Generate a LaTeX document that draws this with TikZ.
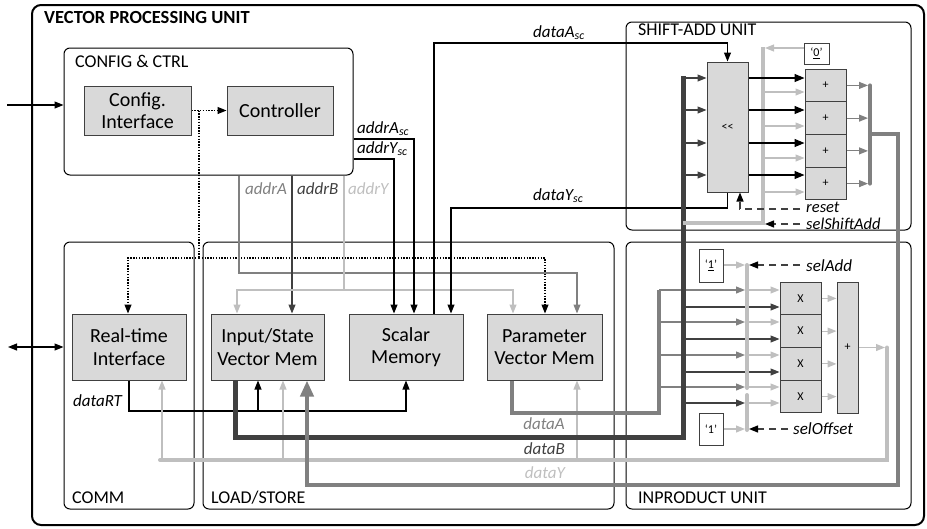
\documentclass[tikz,border=0pt]{standalone}
\usepackage{fontspec}
\setmainfont{Carlito}
\usetikzlibrary{arrows.meta}
\definecolor{cD}{HTML}{404040}
\definecolor{cM}{HTML}{808080}
\definecolor{cL}{HTML}{BFBFBF}
\definecolor{cF}{HTML}{D9D9D9}
\begin{document}
\begin{tikzpicture}[x=1pt,y=-1pt,
  grp/.style={draw=black, line width=1pt, rounded corners=6pt, inner sep=0pt},
  blk/.style={draw=cD, fill=cF, line width=1pt, inner sep=0pt, align=center, font=\fontsize{20}{22.5}\selectfont},
  sblk/.style={draw=cD, fill=cF, line width=1pt, inner sep=0pt, font=\fontsize{12}{14}\selectfont},
  cst/.style={draw=cD, fill=white, line width=1pt, inner sep=0pt, font=\fontsize{12}{14}\selectfont},
  ttl/.style={anchor=base west, inner sep=0pt, font=\fontsize{18}{20}\selectfont},
  sig/.style={anchor=base west, inner sep=0pt, font=\fontsize{17}{20}\selectfont\itshape},
  tip/.style={-{Triangle[length=9pt,width=7pt]}},
  thin/.style={line width=1.1pt},
  bus/.style={line width=4.5pt},
  ctl/.style={draw=cD, line width=1.2pt, dash pattern=on 7pt off 5pt, -{Triangle[length=9pt,width=7pt,color=black]}},
  dots/.style={line width=1.1pt, dash pattern=on 1.4pt off 1.4pt},
]
\useasboundingbox (0,0) rectangle (927,528);

% ---------- groups ----------
\node[grp, line width=2pt, rounded corners=9pt, minimum width=892pt, minimum height=520pt] (vpu) at (478,265) {};
\node[grp, minimum width=289pt, minimum height=127pt] (cfg) at (208.5,111.5) {};
\node[grp, minimum width=285pt, minimum height=208pt] (sau) at (768.5,126) {};
\node[grp, minimum width=130pt, minimum height=267pt] (comm) at (129,375.5) {};
\node[grp, minimum width=411pt, minimum height=267pt] (ls) at (408.5,375.5) {};
\node[grp, minimum width=285pt, minimum height=267pt] (ipu) at (768.5,375.5) {};

\node[ttl, font=\fontsize{18.5}{20}\selectfont\bfseries] (tvpu) at (44,23) {VECTOR PROCESSING UNIT};
\node[ttl] (tcfg) at (75,67) {CONFIG \& CTRL};
\node[ttl] (tsau) at (638,35) {SHIFT-ADD UNIT};
\node[ttl] (tcomm) at (72,503) {COMM};
\node[ttl] (tls) at (211,503) {LOAD/STORE};
\node[ttl] (tipu) at (638,503) {INPRODUCT UNIT};

% ---------- blocks ----------
\node[blk, minimum width=107pt, minimum height=49pt] (cfgif) at (137.5,110.5) {Config.\\Interface};
\node[blk, minimum width=106pt, minimum height=49pt] (ctrl) at (280,110.5) {Controller};
\node[blk, minimum width=114pt, minimum height=66pt] (rt) at (129,347) {Real-time\\Interface};
\node[blk, minimum width=113pt, minimum height=66pt] (ism) at (267.5,347) {Input/State\\Vector Mem};
\node[blk, minimum width=114pt, minimum height=66pt] (sm) at (406,347) {Scalar\\Memory};
\node[blk, minimum width=115pt, minimum height=66pt] (pvm) at (544.5,347) {Parameter\\Vector Mem};

\node[sblk, minimum width=41pt, minimum height=130pt] (shift) at (727.5,127) {<{}<};
\node[sblk, minimum width=41pt, minimum height=32.75pt] (a1) at (825.5,85.4) {+};
\node[sblk, minimum width=41pt, minimum height=32.75pt] (a2) at (825.5,118.1) {+};
\node[sblk, minimum width=41pt, minimum height=32.75pt] (a3) at (825.5,150.9) {+};
\node[sblk, minimum width=41pt, minimum height=32.75pt] (a4) at (825.5,183.6) {+};
\node[cst, minimum width=25pt, minimum height=21pt] (zero) at (816.5,53.5) {‘\underline{0}’};

\node[sblk, minimum width=41pt, minimum height=32.75pt] (x1) at (800.5,298.4) {X};
\node[sblk, minimum width=41pt, minimum height=32.75pt] (x2) at (800.5,331.1) {X};
\node[sblk, minimum width=41pt, minimum height=32.75pt] (x3) at (800.5,363.9) {X};
\node[sblk, minimum width=41pt, minimum height=32.75pt] (x4) at (800.5,396.6) {X};
\node[sblk, minimum width=21pt, minimum height=131pt] (sum) at (847.5,347.5) {+};
\node[cst, minimum width=24pt, minimum height=33pt] (one1) at (711,265.5) {‘\underline{1}’};
\node[cst, minimum width=24pt, minimum height=32pt] (one2) at (711,429) {‘1’};

% ---------- external ----------
\coordinate (xIn) at (7,105);
\draw[thin, tip] (xIn) -- (xIn -| cfg.west);
\coordinate (xBi) at (8,347);
\draw[thin, {Triangle[length=9pt,width=7pt]}-{Triangle[length=9pt,width=7pt]}] (xBi) -- (xBi -| comm.west);

% ---------- dotted control ----------
\draw[dots, tip] (cfgif.east) -- (ctrl.west);
\coordinate (dj) at (199,110.5);
\coordinate (dh) at (199,258);
\coordinate (xRTd) at (128,0);
\coordinate (xPd) at (545,0);
\draw[dots] (dj) -- (dh);
\draw[dots, tip] (dh) -- (xRTd |- dh) -- (xRTd |- rt.north);
\draw[dots, tip] (dh) -- (xPd |- dh) -- (xPd |- pvm.north);

% ---------- addresses ----------
\coordinate (xaA) at (239,0); \coordinate (yaA) at (0,273); \coordinate (xaA2) at (577,0);
\draw[thin, cM, tip] (xaA |- cfg.south) -- (xaA |- yaA) -- (xaA2 |- yaA) -- (xaA2 |- pvm.north);
\coordinate (xaB) at (292,0);
\draw[thin, cD, tip] (xaB |- cfg.south) -- (xaB |- ism.north);
\coordinate (xaY) at (344,0); \coordinate (yaY) at (0,290);
\coordinate (xaY1) at (237,0); \coordinate (xaY2) at (513,0);
\draw[thin, cL] (xaY |- cfg.south) -- (xaY |- yaY);
\draw[thin, cL, tip] (xaY |- yaY) -- (xaY1 |- yaY) -- (xaY1 |- ism.north);
\draw[thin, cL, tip] (xaY |- yaY) -- (xaY2 |- yaY) -- (xaY2 |- pvm.north);
\node[sig, text=cM] (laA) at (245,194) {addrA};
\node[sig, text=cD] (laB) at (297,194) {addrB};
\node[sig, text=cL] (laY) at (348,194) {addrY};

\coordinate (yAs) at (0,139); \coordinate (xAs) at (414,0);
\draw[thin, tip] (cfg.east |- yAs) -- (xAs |- yAs) -- (xAs |- sm.north);
\coordinate (yYs) at (0,159); \coordinate (xYs) at (394,0);
\draw[thin, tip] (cfg.east |- yYs) -- (xYs |- yYs) -- (xYs |- sm.north);
\node[sig] (lAs) at (357,133) {addrA\textsubscript{sc}};
\node[sig] (lYs) at (357,153) {addrY\textsubscript{sc}};

% ---------- scalar data ----------
\coordinate (xDAs) at (434,0); \coordinate (yDAs) at (0,43);
\draw[thin, tip] (xDAs |- sm.north) -- (xDAs |- yDAs) -- (shift.north |- yDAs) -- (shift.north);
\node[sig] (lDAs) at (533,37) {dataA\textsubscript{sc}};
\coordinate (yDYs) at (0,208); \coordinate (xDYs) at (451,0);
\draw[thin, tip] (shift.south) -- (shift.south |- yDYs) -- (xDYs |- yDYs) -- (xDYs |- sm.north);
\node[sig] (lDYs) at (533,200) {dataY\textsubscript{sc}};

% ---------- dataRT ----------
\coordinate (yRT) at (0,411); \coordinate (xRTb) at (258,0);
\draw[thin, tip] (rt.south) -- (rt.south |- yRT) -- (sm.south |- yRT) -- (sm.south);
\draw[thin, tip] (xRTb |- yRT) -- (xRTb |- ism.south);
\node[sig] (lRT) at (73,406) {dataRT};

% ---------- dataY bus ----------
\coordinate (xY) at (887,0); \coordinate (yY) at (0,460); \coordinate (xY0) at (160,0);
\coordinate (xYr) at (162,0); \coordinate (xYi) at (283,0); \coordinate (xYp) at (577,0);
\draw[thin, cL, tip] (sum.east) -- ([xshift=-2pt]xY |- sum.east);
\draw[bus, line width=4pt, cL, line cap=round] (xY |- sum.east) -- (xY |- yY) -- (xY0 |- yY);
\draw[thin, cL, tip] (xYr |- yY) -- (xYr |- rt.south);
\draw[thin, cL, tip] (xYi |- yY) -- (xYi |- ism.south);
\draw[thin, cL, tip] (xYp |- yY) -- (xYp |- pvm.south);

% ---------- dataA bus ----------
\coordinate (xA0) at (512,0); \coordinate (yA) at (0,413); \coordinate (xAb) at (659,0); \coordinate (yAt) at (0,290);
\draw[bus, cM] (xA0 |- pvm.south) -- (xA0 |- yA) -- (xAb |- yA) -- (xAb |- yAt);
\coordinate (xMl) at (745,0); \coordinate (xMc) at (747,0); \coordinate (xMr) at (749,0);
\foreach \y in {290,322,355,387}{
  \coordinate (t) at (0,\y);
  \draw[thin, cM, tip] (xAb |- t) -- (xMl |- t);
}

% ---------- dataB bus ----------
\coordinate (xB0) at (235,0); \coordinate (yB) at (0,437); \coordinate (xBb) at (683,0); \coordinate (yBt) at (0,76);
\draw[bus, line width=5pt, cD] (xB0 |- ism.south) -- (xB0 |- yB) -- (xBb |- yB) -- (xBb |- yBt);
\foreach \y in {78,110,143,175}{
  \coordinate (t) at (0,\y);
  \draw[thin, cD, tip] (xBb |- t) -- (shift.west |- t);
}
\foreach \y/\n in {307/1,339/2,372/3}{
  \coordinate (t) at (0,\y);
  \draw[thin, cD, tip] (xBb |- t) -- (x\n.west |- t);
}
\coordinate (t) at (0,403);
\draw[thin, cD, tip] (xBb |- t) -- (xMl |- t);

% ---------- inproduct muxes ----------
\coordinate (mU1) at (747,265); \coordinate (mU2) at (747,388);
\coordinate (mL1) at (747,395); \coordinate (mL2) at (747,430);
\draw[bus, line width=4pt, cL, line cap=round] (mU1) -- (mU2);
\draw[bus, line width=4pt, cL, line cap=round] (mL1) -- (mL2);
\draw[thin, cL, tip] (one1.east |- mU1) -- (xMl |- mU1);
\draw[thin, cL, tip] (one2.east) -- (xMl |- one2.east);
\foreach \y/\n in {290/1,322/2,355/3,387/4}{
  \coordinate (t) at (0,\y);
  \draw[thin, cL, tip] (xMr |- t) -- (x\n.west |- t);
}
\coordinate (t) at (0,403);
\draw[thin, cL, tip] (xMr |- t) -- (x4.west |- t);
\foreach \n in {1,2,3,4}{
  \draw[thin, cL, tip] (x\n.east) -- (sum.west |- x\n.east);
}
\coordinate (sAdd) at (800,265);
\draw[ctl] (sAdd) -- (xMr |- sAdd);
\node[sig] (lsAdd) at (806,271) {selAdd};
\coordinate (sOff) at (788,429);
\draw[ctl] (sOff) -- (xMr |- sOff);
\node[sig] (lsOff) at (793,434) {selOffset};

% ---------- shift-add internals ----------
\coordinate (mS1) at (763,47); \coordinate (mS2) at (763,223);
\coordinate (xSl) at (761,0); \coordinate (xSr) at (765,0);
\draw[bus, line width=4pt, cL] (mS1) -- (mS2) -- (xBb |- mS2);
\coordinate (t) at (0,48);
\draw[thin, cL, tip] (zero.west |- t) -- (xSr |- t);
\foreach \y/\n in {78/1,110/2,143/3,175/4}{
  \coordinate (t) at (0,\y);
  \draw[line width=1.3pt, black, -{Triangle[length=10pt,width=8pt]}] (shift.east |- t) -- (a\n.west |- t);
}
\foreach \y/\n in {92/1,126/2,158/3,192/4}{
  \coordinate (t) at (0,\y);
  \draw[thin, cL, tip] (xSr |- t) -- (a\n.west |- t);
}
\coordinate (xC) at (870,0);
\foreach \n in {1,2,3,4}{
  \draw[thin, cM, tip] (a\n.east) -- ([xshift=-2pt]xC |- a\n.east);
}
\draw[bus, line width=4pt, cM, line cap=round] (xC |- a1.east) -- (xC |- a4.east);

% feedback bus
\coordinate (yF0) at (0,134); \coordinate (xF) at (898,0); \coordinate (yF) at (0,485); \coordinate (xF2) at (307,0);
\draw[bus, cM, -{Triangle[length=16pt,width=13pt]}] (xC |- yF0) -- (xF |- yF0) -- (xF |- yF) -- (xF2 |- yF) -- (xF2 |- ism.south);

% reset / selShiftAdd
\coordinate (rs0) at (800,209); \coordinate (xrs) at (740,0);
\draw[ctl] (rs0) -- (xrs |- rs0) -- (xrs |- shift.south);
\node[sig, font=\fontsize{16.5}{18}\selectfont\itshape] (lrs) at (806,212) {reset};
\coordinate (ssa) at (800,224);
\draw[ctl] (ssa) -- (xSr |- ssa);
\node[sig, font=\fontsize{16.5}{18}\selectfont\itshape] (lssa) at (806,229) {selShiftAdd};

% bus labels
\node[sig, anchor=base east, text=cM] (ldA) at (565,429) {dataA};
\node[sig, anchor=base east, text=cD] (ldB) at (565,454) {dataB};
\node[sig, anchor=base east, text=cL] (ldY) at (565,478) {dataY};
\end{tikzpicture}
\end{document}
